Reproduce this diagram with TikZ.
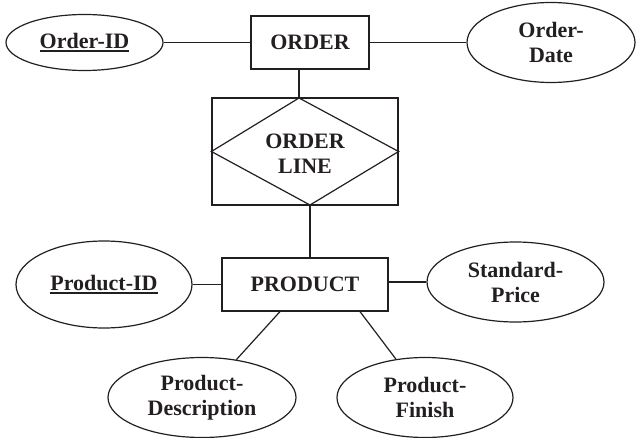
\documentclass[tikz,border=0pt]{standalone}
\usepackage{fontspec}
\setmainfont{Liberation Serif}
\usetikzlibrary{shapes.geometric,calc}
\newcommand\myul[1]{\setbox0\hbox{#1}\rlap{\rule[-4pt]{\wd0}{1.8pt}}\box0}
\definecolor{ink}{HTML}{231F20}
\tikzset{
  base/.style={draw=ink, text=ink, line width=1.2pt, inner sep=0pt, align=center,
    font=\fontsize{22}{25}\selectfont\bfseries},
  entity/.style={base, rectangle},
  attr/.style={base, ellipse},
  conn/.style={draw=ink, line width=1.2pt}
}
\begin{document}
\begin{tikzpicture}[x=1pt,y=-1pt]
\useasboundingbox (0,0) rectangle (636,438);
% entities
\node[entity, minimum width=118pt, minimum height=53pt] (order) at (310,42.5) {ORDER};
\node[entity, minimum width=166pt, minimum height=53pt] (product) at (305,284.5) {PRODUCT};
\node[entity, minimum width=186pt, minimum height=107pt] (assoc) at (305,151.5) {};
\coordinate (dtop) at (299,98);
\coordinate (dbot) at (310,205);
\draw[conn] (assoc.west) -- (dtop) -- (assoc.east) -- (dbot) -- cycle;
\node[base, draw=none] (ol) at (305,154) {ORDER\\LINE};
% attributes
\node[attr, minimum width=157pt, minimum height=56pt] (oid) at (84.5,42.5) {\myul{Order-ID}};
\node[attr, minimum width=168pt, minimum height=80pt] (odate) at (551,42.5) {Order-\\Date};
\node[attr, minimum width=176pt, minimum height=87pt] (pid) at (104,284.5) {\myul{Product-ID}};
\node[attr, minimum width=177pt, minimum height=80pt] (sprice) at (515.5,282) {Standard-\\Price};
\node[attr, minimum width=188pt, minimum height=80pt] (pdesc) at (202,397.5) {Product-\\Description};
\node[attr, minimum width=176pt, minimum height=80pt] (pfin) at (425,397.5) {Product-\\Finish};
% connectors
\draw[conn] (oid.east) -- (oid.east -| order.west);
\draw[conn] (order.east |- odate.west) -- (odate.west);
\draw[conn] (dtop |- order.south) -- (dtop);
\draw[conn] (dbot) -- (dbot |- product.north);
\draw[conn] (pid.east) -- (pid.east -| product.west);
\draw[conn] (product.east |- sprice.west) -- (sprice.west);
\draw[conn] ($(product.south)+(-25,0)$) -- (pdesc);
\draw[conn] ($(product.south)+(55,0)$) -- (pfin);
\end{tikzpicture}
\end{document}
